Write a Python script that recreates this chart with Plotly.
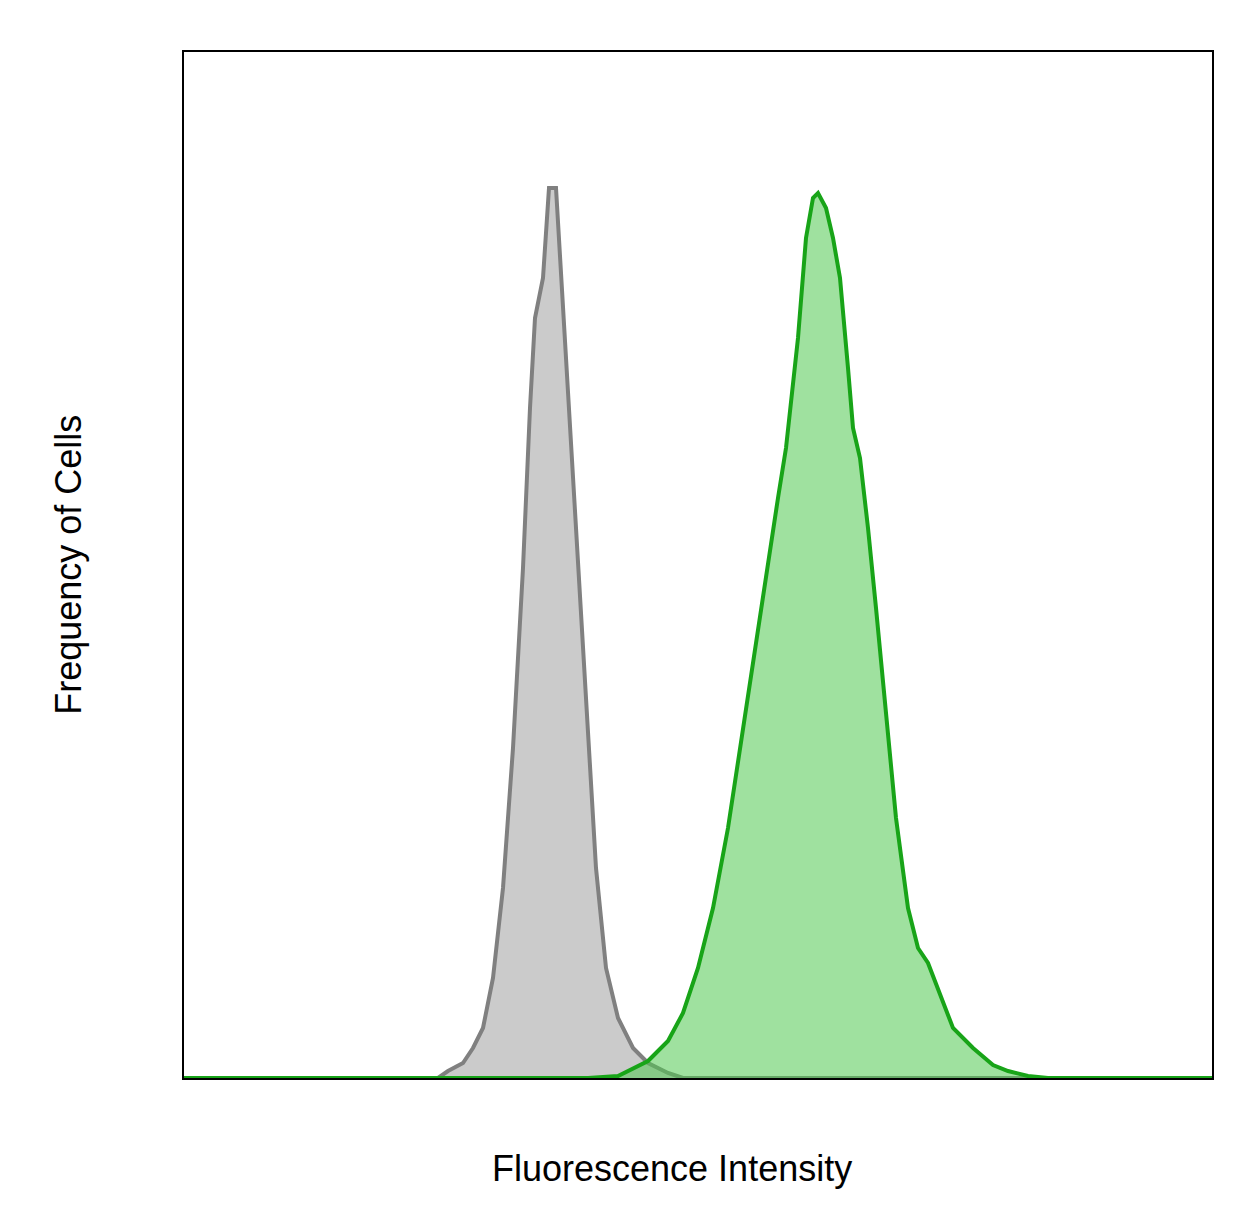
import plotly.graph_objects as go

gray_px = [176,430,440,455,465,475,485,495,505,515,522,527,535,541,548,555,562,570,578,588,598,610,625,640,660,675,1204]
gray_py = [1070,1070,1063,1055,1040,1020,970,880,740,560,400,310,270,180,180,300,420,560,700,860,960,1010,1040,1055,1065,1070,1070]
green_px = [176,580,610,625,640,660,675,690,705,720,735,748,760,770,778,790,798,805,810,818,825,832,840,845,852,860,868,878,888,900,910,920,930,945,965,985,1000,1020,1040,1204]
green_py = [1070,1070,1068,1060,1053,1033,1005,960,900,820,720,630,550,490,440,330,230,190,185,200,230,270,360,420,450,520,600,700,810,900,940,955,980,1020,1040,1057,1063,1068,1070,1070]

gx = [p-176 for p in gray_px]; gy = [1070-p for p in gray_py]
nx = [p-176 for p in green_px]; ny = [1070-p for p in green_py]

fig = go.Figure()
fig.add_trace(go.Scatter(x=gx, y=gy, mode="lines", fill="tozeroy", fillcolor="#cbcbcb",
                         line=dict(color="#808080", width=4)))
fig.add_trace(go.Scatter(x=nx, y=ny, mode="lines", fill="tozeroy", fillcolor="rgba(80,200,80,0.55)",
                         line=dict(color="#18a418", width=4)))
fig.update_layout(width=1244, height=1226, showlegend=False, plot_bgcolor="white", paper_bgcolor="white",
                  margin=dict(l=176, r=40, t=44, b=156),
                  font=dict(family="Liberation Sans", size=36, color="black"))
fig.update_xaxes(range=[0,1028], showticklabels=False, ticks="", showgrid=False, zeroline=False,
                 showline=True, linecolor="black", linewidth=2, mirror=True)
fig.update_yaxes(range=[0,1026], showticklabels=False, ticks="", showgrid=False, zeroline=False,
                 showline=True, linecolor="black", linewidth=2, mirror=True)
fig.add_annotation(text="Fluorescence Intensity", xref="paper", yref="paper", x=0.475, y=-0.088,
                   yanchor="middle", showarrow=False)
fig.add_annotation(text="Frequency of Cells", xref="paper", yref="paper", x=-0.113, y=0.5,
                   textangle=-90, xanchor="center", showarrow=False)
fig.write_html("out.html")
